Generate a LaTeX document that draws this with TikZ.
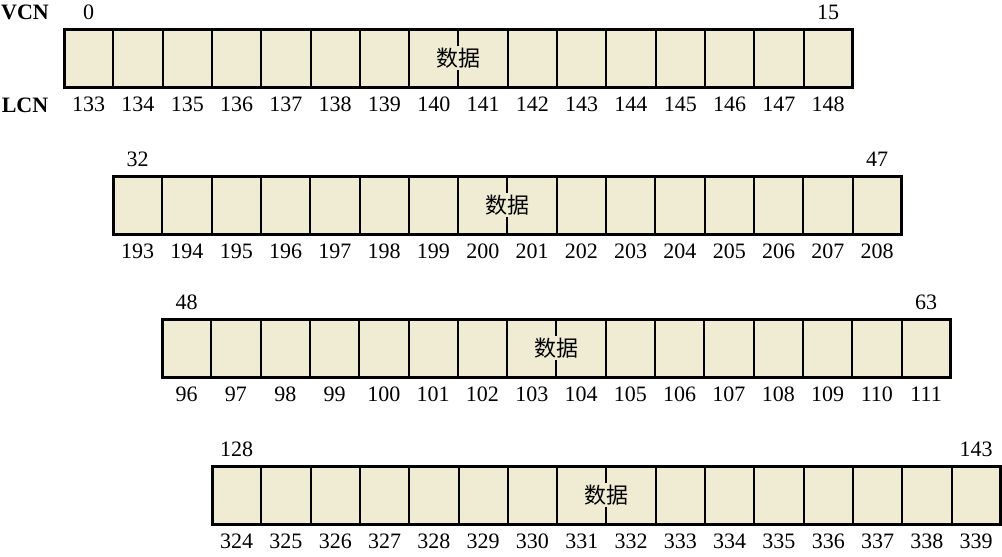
\documentclass[tikz,border=0pt]{standalone}
\usepackage{fontspec}
\setmainfont{Liberation Serif}
\newfontfamily\cjk{Noto Sans CJK SC}
\definecolor{cellfill}{RGB}{239,236,211}
\begin{document}
\begin{tikzpicture}[x=0.5pt,y=-0.5pt,
  cellbox/.style={draw=black,line width=1pt,fill=cellfill,minimum width=24.65pt,
    minimum height=29pt,inner sep=0pt,outer sep=0pt,anchor=north west},
  numlabel/.style={inner sep=0pt,font=\fontsize{11}{13}\selectfont},
  headlabel/.style={inner sep=0pt,font=\fontsize{11}{13}\selectfont\bfseries},
  datalabel/.style={fill=cellfill,inner sep=1pt,font=\fontsize{11}{13}\selectfont\cjk}]
\useasboundingbox (0,0) rectangle (1002,557);
\node[headlabel] (vcn) at (25,12) {VCN};
\node[headlabel] (lcn) at (25,105) {LCN};
\foreach \r/\xo/\yo/\vs/\ve/\ls in {1/64/29/0/15/133,2/113/176/32/47/193,3/162/319/48/63/96,4/212/466/128/143/324}
{
  \foreach \i in {0,...,15}
  {
    \node[cellbox] (c\r-\i) at ({\xo+49.3*\i},\yo) {};
    \pgfmathtruncatemacro\lcnum{\ls+\i}
    \node[numlabel] (l\r-\i) at ([yshift=-8.5pt]c\r-\i.south) {\lcnum};
  }
  \node[datalabel] (d\r) at (c\r-7.east) {数据};
  \draw[line width=1.5pt] (c\r-0.north west) rectangle (c\r-15.south east);
  \node[numlabel] (v\r-a) at ([yshift=8.5pt]c\r-0.north) {\vs};
  \node[numlabel] (v\r-b) at ([yshift=8.5pt]c\r-15.north) {\ve};
}
\end{tikzpicture}
\end{document}
